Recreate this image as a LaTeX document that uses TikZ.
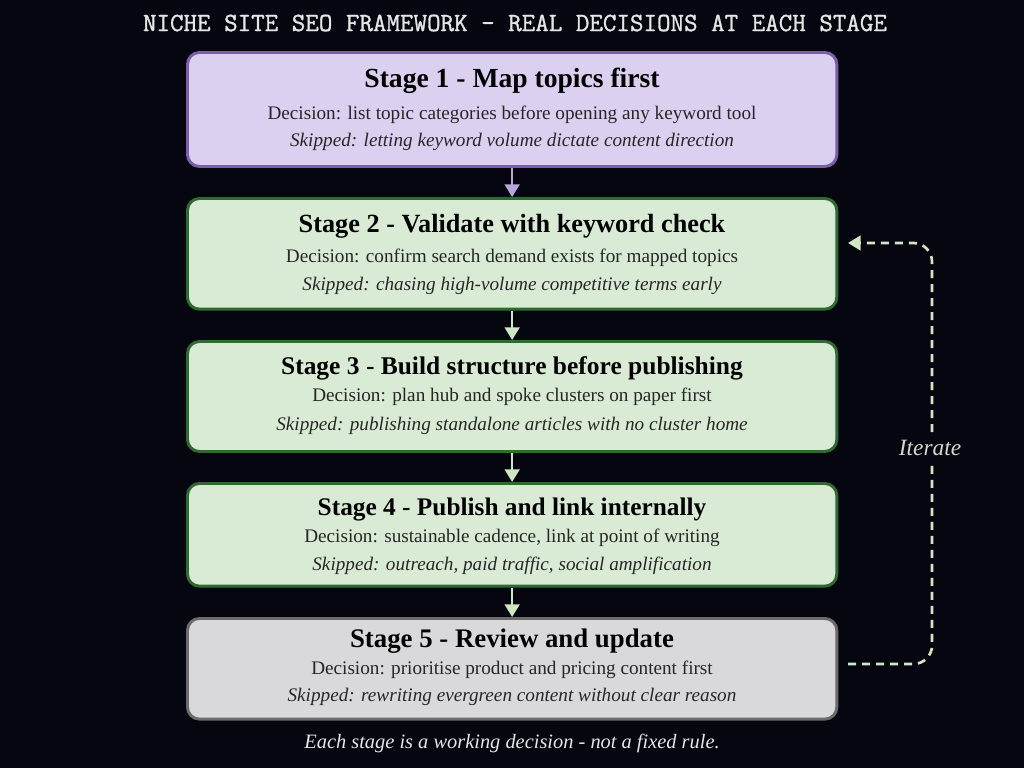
\documentclass[tikz,border=0pt]{standalone}
\usepackage{fontspec}
\setmainfont{Liberation Serif}
\newfontfamily\titlemono[FakeBold=1.2]{Latin Modern Mono}
\usetikzlibrary{arrows.meta}
\definecolor{bg}{HTML}{05060F}
\definecolor{pfill}{HTML}{DCD0F0}
\definecolor{pline}{HTML}{7B5EA7}
\definecolor{parrow}{HTML}{B9A6DC}
\definecolor{gfill}{HTML}{D9EBD5}
\definecolor{gline}{HTML}{2F6A33}
\definecolor{garrow}{HTML}{CFE6C4}
\definecolor{kfill}{HTML}{D9D9DB}
\definecolor{kline}{HTML}{6B6B6B}
\definecolor{ttl}{HTML}{E6E6E6}
\definecolor{itc}{HTML}{CFDCCB}
\newcommand{\fs}[1]{\fontsize{#1}{#1}\selectfont}
\tikzset{
  stagebox/.style={draw, line width=2.2pt, rounded corners=9pt, minimum width=487pt, inner sep=0pt, anchor=north west},
  purplebox/.style={stagebox, fill=pfill, draw=pline},
  greenbox/.style={stagebox, fill=gfill, draw=gline},
  graybox/.style={stagebox, fill=kfill, draw=kline},
  headtxt/.style={text=black, inner sep=0pt},
  dectxt/.style={font=\fs{14.4pt}, text=black!85, inner sep=0pt},
  skiptxt/.style={font=\fs{14.4pt}\itshape, text=black!85, inner sep=0pt},
  flowarrow/.style={line width=2pt, -{Triangle[length=9.5pt,width=11pt]}},
  looparrow/.style={line width=2pt, draw=garrow, dash pattern=on 6pt off 4.5pt, rounded corners=14pt}
}
\begin{document}
\begin{tikzpicture}[x=0.75pt,y=-0.75pt]
\fill[bg] (0,0) rectangle (1024,768);
\useasboundingbox (0,0) rectangle (1024,768);
\node[font=\fs{19.7pt}\titlemono, text=ttl, inner sep=0pt] (title) at (515,23) {NICHE SITE SEO FRAMEWORK - REAL DECISIONS AT EACH STAGE};
% boxes
\node[purplebox, minimum height=85.5pt] (s1) at (186,51) {};
\node[greenbox, minimum height=83pt] (s2) at (186,197) {};
\node[greenbox, minimum height=82.5pt] (s3) at (186,340) {};
\node[greenbox, minimum height=77pt] (s4) at (186,482) {};
\node[graybox, minimum height=75.5pt] (s5) at (186,617) {};
% texts
\node[headtxt, font=\fs{20.7pt}\bfseries] (h1) at (512,81) {Stage 1 - Map topics first};
\node[dectxt] (d1) at (512,115) {Decision: list topic categories before opening any keyword tool};
\node[skiptxt] (k1) at (512,142) {Skipped: letting keyword volume dictate content direction};
\node[headtxt, font=\fs{19.7pt}\bfseries] (h2) at (512,226) {Stage 2 - Validate with keyword check};
\node[dectxt] (d2) at (512,258) {Decision: confirm search demand exists for mapped topics};
\node[skiptxt] (k2) at (512,286) {Skipped: chasing high-volume competitive terms early};
\node[headtxt, font=\fs{19.1pt}\bfseries] (h3) at (512,368) {Stage 3 - Build structure before publishing};
\node[dectxt] (d3) at (512,397) {Decision: plan hub and spoke clusters on paper first};
\node[skiptxt] (k3) at (512,426) {Skipped: publishing standalone articles with no cluster home};
\node[headtxt, font=\fs{19pt}\bfseries] (h4) at (512,509) {Stage 4 - Publish and link internally};
\node[dectxt] (d4) at (512,538) {Decision: sustainable cadence, link at point of writing};
\node[skiptxt] (k4) at (512,566) {Skipped: outreach, paid traffic, social amplification};
\node[headtxt, font=\fs{20.1pt}\bfseries] (h5) at (512,641) {Stage 5 - Review and update};
\node[dectxt] (d5) at (512,670) {Decision: prioritise product and pricing content first};
\node[skiptxt] (k5) at (512,697) {Skipped: rewriting evergreen content without clear reason};
% flow arrows
\draw[flowarrow, draw=parrow] (s1.south) -- (s2.north);
\draw[flowarrow, draw=garrow] (s2.south) -- (s3.north);
\draw[flowarrow, draw=garrow] (s3.south) -- (s4.north);
\draw[flowarrow, draw=garrow] (s4.south) -- (s5.north);
% iterate loop
\coordinate (lstart) at (848,664);
\coordinate (lend) at (848,243);
\node[font=\fs{17.5pt}\itshape, text=itc, inner sep=0pt] (iter) at (930,448) {Iterate};
\draw[looparrow] (lstart) -- (932,664) -- (932,462);
\draw[looparrow, -{Triangle[length=9.5pt,width=11pt]}] (932,432) -- (932,243) -- (lend);
% footer
\node[font=\fs{15.3pt}\itshape, text=ttl, inner sep=0pt] (foot) at (512,743) {Each stage is a working decision - not a fixed rule.};
\end{tikzpicture}
\end{document}
